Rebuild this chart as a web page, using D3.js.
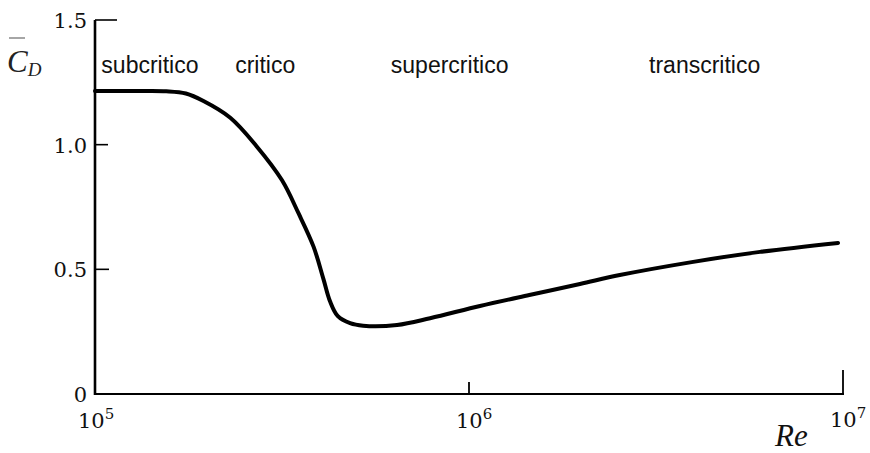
<!DOCTYPE html>
<html>
<head>
<meta charset="utf-8">
<script src="https://cdn.jsdelivr.net/npm/d3@7"></script>
<style>
  html, body { margin: 0; padding: 0; background: #fff; }
  svg { display: block; }
</style>
</head>
<body>
<svg id="chart" width="870" height="453"></svg>
<script>
// Mean drag coefficient of a circular cylinder versus Reynolds number
const reynolds = [1e5, 1.3e5, 1.55e5, 1.75e5, 1.95e5, 2.30e5, 2.70e5, 3.16e5, 3.50e5,
  3.84e5, 4.08e5, 4.25e5, 4.46e5, 4.81e5, 5.21e5, 6.42e5, 7.87e5, 1.07e6, 1.45e6,
  1.98e6, 2.53e6, 3.94e6, 6.0e6, 9.7e6];
const dragCoef = [1.215, 1.215, 1.214, 1.205, 1.175, 1.108, 0.995, 0.858, 0.725,
  0.591, 0.462, 0.372, 0.312, 0.284, 0.274, 0.277, 0.304, 0.353, 0.397,
  0.441, 0.477, 0.529, 0.570, 0.606];

const yTicks = [0, 0.5, 1.0, 1.5];
const yTickLabels = ["0", "0.5", "1.0", "1.5"];
const xTicks = [1e5, 1e6, 1e7];
const xTickExponents = ["5", "6", "7"];

const regimes = ["subcritico", "critico", "supercritico", "transcritico"];
const regimeStarts = [1.04e5, 2.37e5, 6.18e5, 3.03e6];

const svg = d3.select("#chart");

const x = d3.scaleLog().domain([1e5, 1e7]).range([95, 843]);
const y = d3.scaleLinear().domain([0, 1.5]).range([394, 20]);

const serif = "DejaVu Serif, serif";
const sans = "Liberation Sans, Arial, sans-serif";

// axes
svg.append("line")
  .attr("x1", x(1e5)).attr("x2", x(1e5))
  .attr("y1", y(1.5)).attr("y2", y(0) + 1)
  .attr("stroke", "#000").attr("stroke-width", 2.6);
svg.append("line")
  .attr("x1", x(1e5)).attr("x2", x(1e7) + 1)
  .attr("y1", y(0)).attr("y2", y(0))
  .attr("stroke", "#000").attr("stroke-width", 2.2);

// y ticks point inward
const yTickLen = [0, 14, 13, 22];
svg.selectAll(".ytick").data(yTicks).enter().append("line")
  .attr("x1", x(1e5)).attr("x2", (d, i) => x(1e5) + yTickLen[i])
  .attr("y1", d => y(d)).attr("y2", d => y(d))
  .attr("stroke", "#000").attr("stroke-width", 1.6);

svg.selectAll(".ylab").data(yTicks).enter().append("text")
  .attr("x", 87).attr("y", d => y(d) + 1)
  .attr("text-anchor", "end").attr("dominant-baseline", "central")
  .attr("font-family", serif).attr("font-size", 21).attr("fill", "#111")
  .text((d, i) => yTickLabels[i]);

// x ticks point upward
const xTickLen = [0, 12, 24];
svg.selectAll(".xtick").data(xTicks).enter().append("line")
  .attr("x1", d => x(d)).attr("x2", d => x(d))
  .attr("y1", y(0)).attr("y2", (d, i) => y(0) - xTickLen[i])
  .attr("stroke", "#000").attr("stroke-width", 1.8);

const xl = svg.selectAll(".xlab").data(xTicks).enter().append("text")
  .attr("x", (d, i) => x(d) - 13 - (i === 0 ? 4 : 0))
  .attr("y", (d, i) => i === 2 ? 427 : 428)
  .attr("font-family", serif).attr("font-size", 21).attr("fill", "#111");
xl.append("tspan").text("10");
xl.append("tspan").attr("dy", -9).attr("font-size", 15).text((d, i) => xTickExponents[i]);

// axis titles
svg.append("text")
  .attr("x", 775).attr("y", 446)
  .attr("font-family", "Liberation Serif, serif").attr("font-style", "italic")
  .attr("font-size", 31).attr("fill", "#111").text("Re");

const cd = svg.append("text")
  .attr("x", 7).attr("y", 72)
  .attr("font-family", "Liberation Serif, serif").attr("font-style", "italic")
  .attr("font-size", 31).attr("fill", "#222");
cd.append("tspan").text("C");
cd.append("tspan").attr("dy", 4).attr("font-size", 19).text("D");
svg.append("line")
  .attr("x1", 9).attr("x2", 25).attr("y1", 38).attr("y2", 38)
  .attr("stroke", "#888").attr("stroke-width", 1.5);

// regime labels
svg.selectAll(".regime").data(regimes).enter().append("text")
  .attr("x", (d, i) => x(regimeStarts[i])).attr("y", 73)
  .attr("font-family", sans).attr("font-size", 23).attr("fill", "#111")
  .text(d => d);

// drag curve
const pts = reynolds.map((r, i) => [r, dragCoef[i]]);
svg.append("path")
  .datum(pts)
  .attr("fill", "none").attr("stroke", "#000").attr("stroke-width", 4)
  .attr("stroke-linecap", "round").attr("stroke-linejoin", "round")
  .attr("d", d3.line().x(d => x(d[0])).y(d => y(d[1])).curve(d3.curveCatmullRom.alpha(0.5)));
</script>
</body>
</html>
